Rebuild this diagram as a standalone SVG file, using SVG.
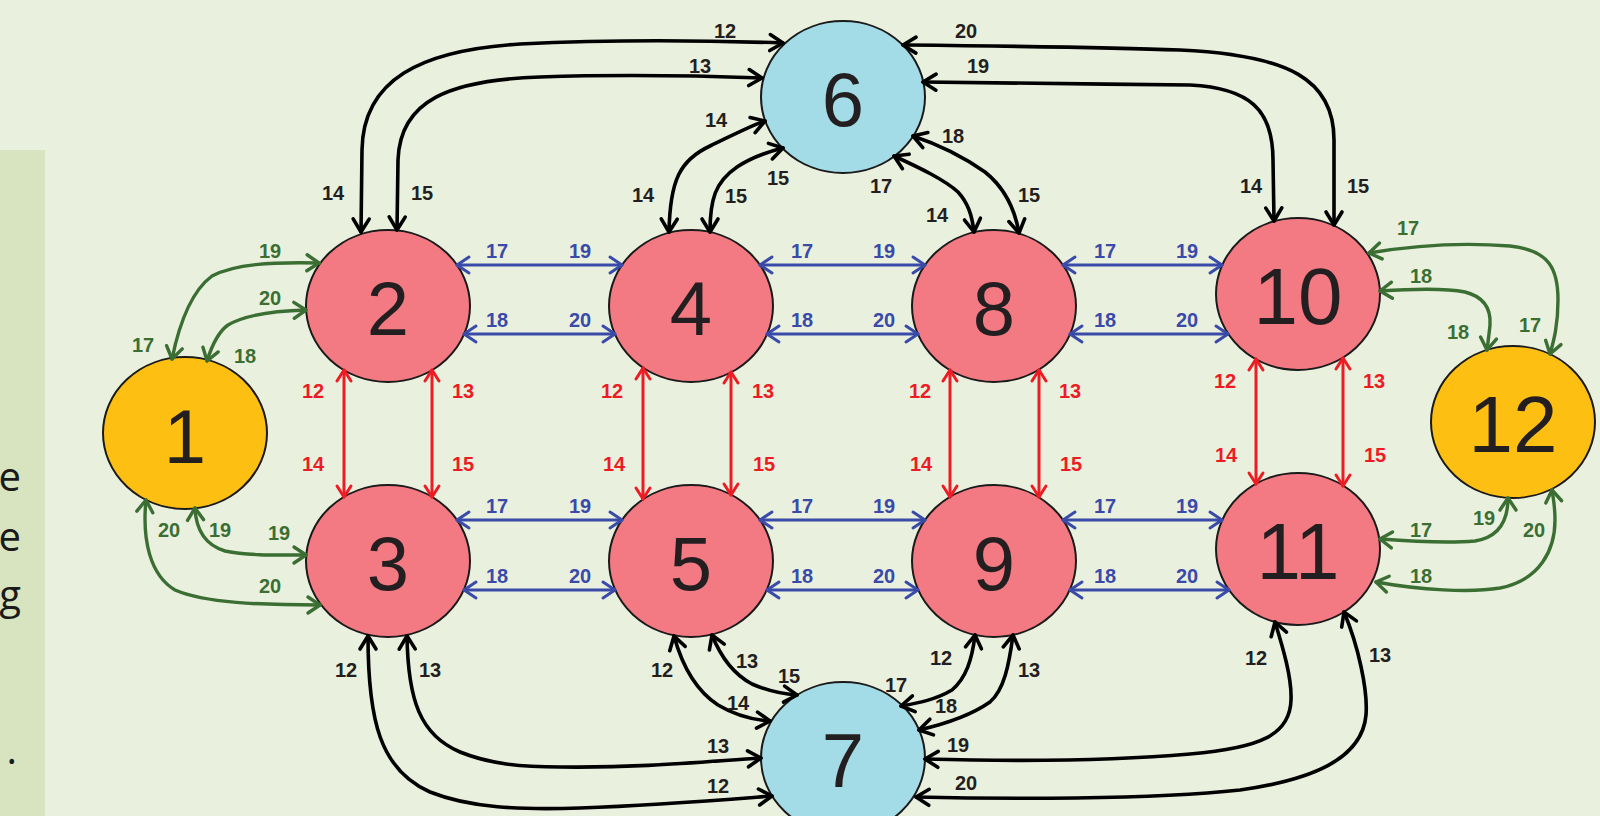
<svg xmlns="http://www.w3.org/2000/svg" width="1600" height="816" viewBox="0 0 1600 816">
<style>
.node ellipse{stroke:#1a1a1a;stroke-width:2}
.pink{fill:#f37a83}.blue{fill:#a3dbe6}.yel{fill:#fdc012}
.num{font-family:"Liberation Sans",Arial,sans-serif;fill:#231f20;text-anchor:middle}
.c{fill:none;stroke-linecap:round}
.k{stroke:#000;stroke-width:3.6;marker-start:url(#mk);marker-end:url(#mk)}
.b{stroke:#3a4aa8;stroke-width:3;marker-start:url(#mb);marker-end:url(#mb)}
.r{stroke:#ed1c24;stroke-width:3;marker-start:url(#mr);marker-end:url(#mr)}
.g{stroke:#3b6e33;stroke-width:3.4;marker-start:url(#mg);marker-end:url(#mg)}
.lbl{font-family:"Liberation Sans",Arial,sans-serif;font-weight:bold;font-size:20px;text-anchor:middle}
.lk{fill:#231f20}.lb{fill:#3a4aa8}.lr{fill:#ed1c24}.lg{fill:#3b6e33}
.side{font-family:"Open Sans","Noto Sans",sans-serif;font-size:40px;fill:#1a1a1a;text-anchor:end}
</style>
<defs>
<marker id="mk" viewBox="0 0 20 20" refX="17" refY="10" markerWidth="20" markerHeight="20" markerUnits="userSpaceOnUse" orient="auto-start-reverse" overflow="visible"><path d="M4,2 L17,10 L4,18" fill="none" stroke="#000" stroke-width="3.6" stroke-linecap="round" stroke-linejoin="round"/></marker>
<marker id="mb" viewBox="0 0 20 20" refX="17" refY="10" markerWidth="20" markerHeight="20" markerUnits="userSpaceOnUse" orient="auto-start-reverse" overflow="visible"><path d="M5,2 L17,10 L5,18" fill="none" stroke="#3a4aa8" stroke-width="3" stroke-linecap="round" stroke-linejoin="round"/></marker>
<marker id="mr" viewBox="0 0 20 20" refX="17" refY="10" markerWidth="20" markerHeight="20" markerUnits="userSpaceOnUse" orient="auto-start-reverse" overflow="visible"><path d="M6,3 L17,10 L6,17" fill="none" stroke="#ed1c24" stroke-width="3" stroke-linecap="round" stroke-linejoin="round"/></marker>
<marker id="mg" viewBox="0 0 20 20" refX="17" refY="10" markerWidth="20" markerHeight="20" markerUnits="userSpaceOnUse" orient="auto-start-reverse" overflow="visible"><path d="M5,2 L17,10 L5,18" fill="none" stroke="#3b6e33" stroke-width="3.4" stroke-linecap="round" stroke-linejoin="round"/></marker>
</defs>
<rect x="0" y="0" width="1600" height="816" fill="#eaf0de"/>
<g id="side-panel">
<rect x="0" y="150" width="45" height="666" fill="#d8e4c0"/>
<text class="side" x="21" y="491">e</text>
<text class="side" x="21" y="551">e</text>
<text class="side" x="21" y="609">g</text>
<text class="side" x="17" y="764">.</text>
</g>
<g id="node-1" class="node"><ellipse class="yel" cx="185" cy="433" rx="82" ry="76"/><text class="num" x="185" y="463" font-size="76">1</text></g>
<g id="node-2" class="node"><ellipse class="pink" cx="388" cy="306" rx="82" ry="76"/><text class="num" x="388" y="335" font-size="76">2</text></g>
<g id="node-3" class="node"><ellipse class="pink" cx="388" cy="561" rx="82" ry="76"/><text class="num" x="388" y="590" font-size="76">3</text></g>
<g id="node-4" class="node"><ellipse class="pink" cx="691" cy="306" rx="82" ry="76"/><text class="num" x="691" y="335" font-size="76">4</text></g>
<g id="node-5" class="node"><ellipse class="pink" cx="691" cy="561" rx="82" ry="76"/><text class="num" x="691" y="590" font-size="76">5</text></g>
<g id="node-6" class="node"><ellipse class="blue" cx="843" cy="97" rx="82" ry="76"/><text class="num" x="843" y="126" font-size="76">6</text></g>
<g id="node-7" class="node"><ellipse class="blue" cx="843" cy="758" rx="82" ry="76"/><text class="num" x="843" y="787" font-size="76">7</text></g>
<g id="node-8" class="node"><ellipse class="pink" cx="994" cy="306" rx="82" ry="76"/><text class="num" x="994" y="335" font-size="76">8</text></g>
<g id="node-9" class="node"><ellipse class="pink" cx="994" cy="561" rx="82" ry="76"/><text class="num" x="994" y="590" font-size="76">9</text></g>
<g id="node-10" class="node"><ellipse class="pink" cx="1298" cy="294" rx="82" ry="76"/><text class="num" x="1298" y="324" font-size="80">10</text></g>
<g id="node-11" class="node"><ellipse class="pink" cx="1298" cy="549" rx="82" ry="76"/><text class="num" x="1298" y="579" font-size="80">11</text></g>
<g id="node-12" class="node"><ellipse class="yel" cx="1513" cy="422" rx="82" ry="76"/><text class="num" x="1513" y="452" font-size="80">12</text></g>
<g id="connectors">
<!-- blue -->
<path class="c b" d="M457,265 L622,265"/><path class="c b" d="M464,334 L615,334"/>
<path class="c b" d="M760,265 L925,265"/><path class="c b" d="M767,334 L918,334"/>
<path class="c b" d="M1063,265 L1222,265"/><path class="c b" d="M1070,334 L1228,334"/>
<path class="c b" d="M457,520 L622,520"/><path class="c b" d="M464,590 L615,590"/>
<path class="c b" d="M760,520 L925,520"/><path class="c b" d="M767,590 L918,590"/>
<path class="c b" d="M1063,520 L1222,520"/><path class="c b" d="M1070,590 L1229,590"/>
<!-- red -->
<path class="c r" d="M344,370 L344,497"/><path class="c r" d="M432,370 L432,497"/>
<path class="c r" d="M643,368 L643,499"/><path class="c r" d="M731,372 L731,495"/>
<path class="c r" d="M950,370 L950,497"/><path class="c r" d="M1039,370 L1039,497"/>
<path class="c r" d="M1256,359 L1256,484"/><path class="c r" d="M1343,358 L1343,486"/>
<!-- black -->
<path class="c k" d="M783,43 C700,40 600,40 520,44 C420,50 363,80 362,150 L361,232"/>
<path class="c k" d="M762,78 C680,75 600,75 540,77 C450,80 400,100 398,160 L397,230"/>
<path class="c k" d="M903,45 C1000,46 1100,47 1180,50 C1290,55 1334,80 1334,140 L1334,225"/>
<path class="c k" d="M923,82 C1000,83 1100,84 1190,85 C1250,88 1273,110 1273,160 L1274,221"/>
<path class="c k" d="M669,232 C670,180 680,160 710,146 C735,134 750,126 765,121"/>
<path class="c k" d="M710,232 C710,200 715,182 737,167 C752,157 767,152 783,148"/>
<path class="c k" d="M913,136 C940,145 965,158 985,172 C1005,188 1015,210 1019,233"/>
<path class="c k" d="M894,156 C920,168 945,180 958,192 C968,203 972,215 974,232"/>
<path class="c k" d="M368,636 C368,720 380,770 430,792 C470,808 520,810 580,808 C660,805 720,800 772,796"/>
<path class="c k" d="M407,636 C408,700 420,735 460,752 C490,764 520,767 560,767 C640,768 700,762 761,758"/>
<path class="c k" d="M674,636 C682,665 695,690 718,705 C738,717 755,720 770,721"/>
<path class="c k" d="M712,635 C722,660 735,675 752,684 C770,692 783,694 797,695"/>
<path class="c k" d="M975,635 C972,660 966,678 952,690 C935,700 918,703 901,706"/>
<path class="c k" d="M1013,635 C1009,665 1004,690 990,702 C970,716 945,724 919,730"/>
<path class="c k" d="M1275,622 C1283,648 1292,678 1291,700 C1290,735 1260,748 1190,754 C1100,762 1000,761 925,759"/>
<path class="c k" d="M1344,612 C1358,645 1368,690 1366,715 C1362,760 1310,780 1240,790 C1150,800 1000,799 916,797"/>
<!-- green -->
<path class="c g" d="M172,359 C180,320 193,290 212,276 C235,264 270,262 319,263"/>
<path class="c g" d="M207,361 C212,345 218,332 228,325 C245,315 270,311 306,310"/>
<path class="c g" d="M195,508 C196,530 205,545 225,551 C250,556 280,555 306,555"/>
<path class="c g" d="M146,500 C142,540 150,575 175,590 C205,603 260,605 320,605"/>
<path class="c g" d="M1369,253 C1410,246 1460,242 1510,246 C1550,250 1558,270 1558,300 C1558,325 1554,340 1550,354"/>
<path class="c g" d="M1380,291 C1410,289 1445,288 1465,292 C1485,297 1491,310 1490,325 C1489,335 1488,342 1487,350"/>
<path class="c g" d="M1380,539 C1420,542 1450,543 1475,541 C1500,537 1508,520 1508,498"/>
<path class="c g" d="M1376,582 C1420,590 1470,593 1500,588 C1540,580 1555,550 1555,520 C1555,505 1553,497 1552,490"/>
</g>
<g id="connector-labels" class="lbl">
<g class="lb">
<text x="497" y="258">17</text><text x="580" y="258">19</text><text x="497" y="327">18</text><text x="580" y="327">20</text>
<text x="802" y="258">17</text><text x="884" y="258">19</text><text x="802" y="327">18</text><text x="884" y="327">20</text>
<text x="1105" y="258">17</text><text x="1187" y="258">19</text><text x="1105" y="327">18</text><text x="1187" y="327">20</text>
<text x="497" y="513">17</text><text x="580" y="513">19</text><text x="497" y="583">18</text><text x="580" y="583">20</text>
<text x="802" y="513">17</text><text x="884" y="513">19</text><text x="802" y="583">18</text><text x="884" y="583">20</text>
<text x="1105" y="513">17</text><text x="1187" y="513">19</text><text x="1105" y="583">18</text><text x="1187" y="583">20</text>
</g>
<g class="lr">
<text x="313" y="398">12</text><text x="463" y="398">13</text><text x="313" y="471">14</text><text x="463" y="471">15</text>
<text x="612" y="398">12</text><text x="763" y="398">13</text><text x="614" y="471">14</text><text x="764" y="471">15</text>
<text x="920" y="398">12</text><text x="1070" y="398">13</text><text x="921" y="471">14</text><text x="1071" y="471">15</text>
<text x="1225" y="388">12</text><text x="1374" y="388">13</text><text x="1226" y="462">14</text><text x="1375" y="462">15</text>
</g>
<g class="lk">
<text x="725" y="38">12</text><text x="700" y="73">13</text><text x="333" y="200">14</text><text x="422" y="200">15</text>
<text x="966" y="38">20</text><text x="978" y="73">19</text><text x="1251" y="193">14</text><text x="1358" y="193">15</text>
<text x="716" y="127">14</text><text x="778" y="185">15</text><text x="643" y="202">14</text><text x="736" y="203">15</text>
<text x="953" y="143">18</text><text x="881" y="193">17</text><text x="937" y="222">14</text><text x="1029" y="202">15</text>
<text x="346" y="677">12</text><text x="430" y="677">13</text><text x="718" y="753">13</text><text x="718" y="793">12</text>
<text x="662" y="677">12</text><text x="747" y="668">13</text><text x="738" y="710">14</text><text x="789" y="683">15</text>
<text x="941" y="665">12</text><text x="1029" y="677">13</text><text x="896" y="692">17</text><text x="946" y="713">18</text>
<text x="1256" y="665">12</text><text x="1380" y="662">13</text><text x="958" y="752">19</text><text x="966" y="790">20</text>
</g>
<g class="lg">
<text x="270" y="258">19</text><text x="270" y="305">20</text><text x="143" y="352">17</text><text x="245" y="363">18</text>
<text x="169" y="537">20</text><text x="220" y="537">19</text><text x="279" y="540">19</text><text x="270" y="593">20</text>
<text x="1408" y="235">17</text><text x="1421" y="283">18</text><text x="1458" y="339">18</text><text x="1530" y="332">17</text>
<text x="1421" y="537">17</text><text x="1421" y="583">18</text><text x="1484" y="525">19</text><text x="1534" y="537">20</text>
</g>
</g>
</svg>
